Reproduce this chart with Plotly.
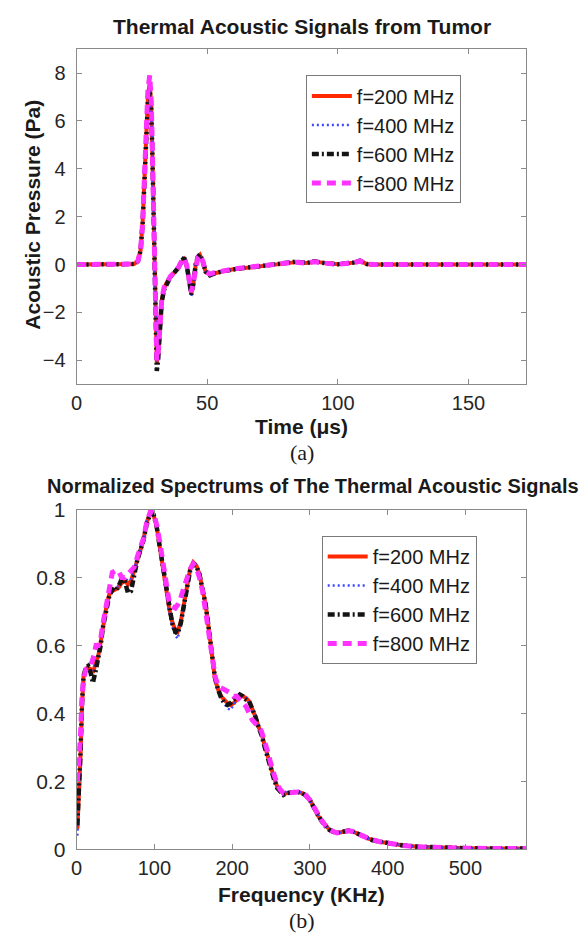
import plotly.graph_objects as go

# ---------------- data: (a) time signals ----------------
time_us = [0, 5, 10, 15, 20, 22, 23.5, 24.5, 25.3, 26, 26.7, 27.3, 28, 28.6, 29.2, 29.8, 30.3, 30.7, 31.2, 31.8,
           32.6, 33.5, 34.5, 36, 37.5, 39, 40.2, 41.2, 42.2, 43.1, 43.9, 44.7, 45.6, 46.4, 47.2, 48.2, 49.4, 51, 53, 56,
           60, 64, 68, 72, 76, 80, 84, 88, 91, 94, 97, 100, 103, 106, 108.5, 111, 114, 120, 130, 140, 150, 160, 172]
p200 = [0, 0, 0, 0, 0, 0.02, 0.15, 0.6, 1.8, 3.6, 5.5, 7.0, 7.6, 6.6, 3.6, 0.2, -2.6, -4.1, -3.8, -2.6,
        -1.5, -1.0, -0.75, -0.5, -0.35, -0.15, 0.1, 0.22, -0.1, -0.6, -1.2, -0.8, 0.0, 0.3, 0.4, 0.15, -0.3, -0.42, -0.35, -0.28,
        -0.2, -0.15, -0.1, -0.05, 0.02, 0.08, 0.1, 0.06, 0.13, 0.08, 0.03, 0.01, 0.04, 0.08, 0.16, 0.02, 0, 0, 0.01, 0, 0.01, 0, 0]
p400 = [0, 0, 0, 0, 0, 0.02, 0.16, 0.62, 1.85, 3.65, 5.5, 6.9, 7.3, 6.4, 3.5, 0.1, -2.7, -4.05, -3.75, -2.6,
        -1.55, -1.05, -0.8, -0.52, -0.33, -0.1, 0.2, 0.35, 0.0, -0.65, -1.35, -0.85, 0.0, 0.3, 0.42, 0.18, -0.28, -0.4, -0.33, -0.27,
        -0.2, -0.14, -0.1, -0.04, 0.03, 0.09, 0.11, 0.07, 0.14, 0.08, 0.03, 0.02, 0.04, 0.09, 0.17, 0.03, 0, 0.01, 0, 0.01, 0, 0, 0]
p600 = [0, 0, 0, 0, 0, 0.02, 0.14, 0.58, 1.75, 3.5, 5.3, 6.8, 7.25, 6.5, 3.7, 0.3, -2.8, -4.45, -4.0, -2.7,
        -1.55, -1.05, -0.8, -0.5, -0.32, -0.12, 0.15, 0.28, -0.05, -0.6, -1.25, -0.8, 0.02, 0.32, 0.42, 0.17, -0.3, -0.45, -0.36, -0.28,
        -0.2, -0.14, -0.1, -0.04, 0.03, 0.1, 0.12, 0.06, 0.14, 0.07, 0.02, 0.01, 0.05, 0.08, 0.16, 0.02, 0, 0, 0.01, 0, 0, 0.01, 0]
p800 = [0, 0, 0, 0, 0, 0.02, 0.15, 0.6, 1.8, 3.7, 5.7, 7.3, 7.9, 6.8, 3.7, 0.2, -2.6, -4.0, -3.7, -2.5,
        -1.45, -0.95, -0.72, -0.48, -0.33, -0.12, 0.15, 0.27, -0.05, -0.55, -1.15, -0.75, 0.02, 0.3, 0.4, 0.16, -0.28, -0.4, -0.33, -0.26,
        -0.19, -0.13, -0.08, -0.03, 0.03, 0.08, 0.1, 0.06, 0.12, 0.07, 0.02, 0.01, 0.04, 0.07, 0.15, 0.02, 0, 0, 0.01, 0, 0, 0, 0]

# ---------------- data: (b) normalized spectra ----------------
freq_khz = [1, 3, 5, 7, 9, 12, 15, 18, 21, 25, 28, 31, 34, 38, 42, 46, 50, 54, 58, 62,
            66, 70, 74, 78, 82, 86, 90, 95, 99, 103, 107, 111, 115, 119, 123, 127, 130, 134, 138, 142,
            146, 150, 154, 158, 162, 166, 170, 174, 178, 182, 186, 190, 194, 198, 202, 206, 210, 214, 218, 222,
            226, 230, 234, 238, 242, 246, 250, 254, 258, 262, 266, 270, 275, 280, 285, 290, 295, 300, 305, 310,
            315, 320, 325, 330, 335, 340, 345, 350, 355, 360, 365, 370, 375, 380, 390, 400, 410, 420, 440, 460,
            480, 500, 530, 560, 578]
s200 = [0.06, 0.15, 0.27, 0.42, 0.51, 0.53, 0.535, 0.53, 0.52, 0.55, 0.57, 0.61, 0.66, 0.71, 0.75,
        0.76, 0.765, 0.77, 0.785, 0.79, 0.78, 0.79, 0.82, 0.85, 0.88, 0.91, 0.96, 0.995, 0.985, 0.95,
        0.89, 0.83, 0.77, 0.71, 0.67, 0.645, 0.64, 0.67, 0.72, 0.78, 0.825, 0.845, 0.835, 0.81, 0.77,
        0.72, 0.65, 0.57, 0.50, 0.47, 0.45, 0.44, 0.43, 0.425, 0.43, 0.44, 0.45, 0.45, 0.445, 0.435,
        0.415, 0.39, 0.36, 0.34, 0.305, 0.27, 0.24, 0.21, 0.185, 0.175, 0.165, 0.165, 0.167, 0.168, 0.168,
        0.165, 0.158, 0.145, 0.125, 0.10, 0.085, 0.07, 0.058, 0.052, 0.048, 0.05, 0.053, 0.054, 0.052, 0.048,
        0.043, 0.037, 0.031, 0.027, 0.022, 0.018, 0.014, 0.011, 0.007, 0.005, 0.004, 0.003, 0.002, 0.002, 0.002]
s400 = [0.04, 0.13, 0.26, 0.41, 0.50, 0.525, 0.53, 0.525, 0.52, 0.55, 0.575, 0.615, 0.665, 0.715, 0.755,
        0.765, 0.77, 0.775, 0.79, 0.80, 0.79, 0.795, 0.825, 0.855, 0.885, 0.915, 0.965, 0.995, 0.98, 0.945,
        0.885, 0.82, 0.76, 0.70, 0.655, 0.63, 0.62, 0.66, 0.715, 0.775, 0.82, 0.84, 0.83, 0.805, 0.765,
        0.715, 0.645, 0.565, 0.495, 0.465, 0.445, 0.43, 0.415, 0.41, 0.425, 0.44, 0.45, 0.45, 0.445, 0.435,
        0.415, 0.395, 0.365, 0.34, 0.305, 0.27, 0.24, 0.21, 0.185, 0.172, 0.17, 0.168, 0.168, 0.17, 0.17,
        0.166, 0.158, 0.145, 0.125, 0.10, 0.085, 0.07, 0.058, 0.05, 0.047, 0.049, 0.053, 0.054, 0.052, 0.048,
        0.043, 0.037, 0.031, 0.027, 0.022, 0.018, 0.014, 0.011, 0.007, 0.005, 0.004, 0.003, 0.002, 0.002, 0.002]
s600 = [0.07, 0.16, 0.28, 0.43, 0.51, 0.535, 0.54, 0.52, 0.49, 0.53, 0.56, 0.60, 0.655, 0.705, 0.745,
        0.765, 0.76, 0.775, 0.795, 0.79, 0.755, 0.76, 0.81, 0.85, 0.88, 0.91, 0.955, 0.99, 0.985, 0.95,
        0.89, 0.83, 0.77, 0.71, 0.665, 0.64, 0.635, 0.665, 0.715, 0.775, 0.82, 0.84, 0.835, 0.81, 0.77,
        0.72, 0.65, 0.575, 0.505, 0.47, 0.445, 0.43, 0.425, 0.43, 0.44, 0.445, 0.455, 0.45, 0.44, 0.435,
        0.415, 0.39, 0.36, 0.335, 0.30, 0.265, 0.235, 0.205, 0.18, 0.17, 0.16, 0.165, 0.168, 0.168, 0.168,
        0.165, 0.158, 0.145, 0.123, 0.10, 0.083, 0.068, 0.057, 0.051, 0.048, 0.05, 0.053, 0.055, 0.052, 0.047,
        0.042, 0.036, 0.031, 0.027, 0.022, 0.018, 0.014, 0.011, 0.007, 0.005, 0.004, 0.003, 0.002, 0.002, 0.002]
s800 = [0.2, 0.25, 0.33, 0.45, 0.50, 0.53, 0.535, 0.54, 0.56, 0.6, 0.6, 0.62, 0.665, 0.72, 0.77,
        0.815, 0.82, 0.82, 0.8, 0.8, 0.81, 0.82, 0.83, 0.86, 0.885, 0.915, 0.96, 0.995, 0.99, 0.955,
        0.905, 0.85, 0.78, 0.73, 0.715, 0.71, 0.72, 0.74, 0.77, 0.8, 0.825, 0.84, 0.83, 0.8, 0.76,
        0.7, 0.63, 0.57, 0.51, 0.48, 0.475, 0.47, 0.465, 0.46, 0.45, 0.45, 0.44, 0.43, 0.42, 0.4,
        0.38, 0.37, 0.365, 0.345, 0.32, 0.285, 0.25, 0.22, 0.19, 0.175, 0.165, 0.165, 0.167, 0.168, 0.168,
        0.165, 0.158, 0.145, 0.125, 0.10, 0.085, 0.07, 0.058, 0.052, 0.048, 0.05, 0.053, 0.054, 0.052, 0.048,
        0.043, 0.037, 0.031, 0.027, 0.022, 0.018, 0.014, 0.011, 0.007, 0.005, 0.004, 0.003, 0.002, 0.002, 0.002]

labels = ["f=200 MHz", "f=400 MHz", "f=600 MHz", "f=800 MHz"]
time_ticks = [0, 50, 100, 150]
pressure_ticks = [-4, -2, 0, 2, 4, 6, 8]
freq_ticks = [0, 100, 200, 300, 400, 500]
spec_ticks = [0, 0.2, 0.4, 0.6, 0.8, 1]

# ---------------- styling ----------------
W, H = 579, 947
SANS = "Liberation Sans, Arial, Helvetica, sans-serif"
SERIF = "Liberation Serif, Times New Roman, serif"
styles = [
    dict(color="rgb(255,40,0)", width=4, dash="solid"),
    dict(color="rgb(60,70,255)", width=2.5, dash="2px,3px"),
    dict(color="rgb(20,20,20)", width=4.5, dash="7px,3px,2px,3px"),
    dict(color="rgb(255,50,255)", width=5, dash="9px,6px"),
]

fig = go.Figure()
for lab, ys, st in zip(labels, [p200, p400, p600, p800], styles):
    fig.add_trace(go.Scatter(x=time_us, y=ys, mode="lines", name=lab, line=st,
                             xaxis="x", yaxis="y", legend="legend"))
for lab, ys, st in zip(labels, [s200, s400, s600, s800], styles):
    fig.add_trace(go.Scatter(x=freq_khz, y=ys, mode="lines", name=lab, line=st,
                             xaxis="x2", yaxis="y2", legend="legend2"))

def px_x(p):
    return p / W

def px_y(p):
    return 1 - p / H

axcol = "#8a8a8a"

def axis(size, standoff):
    return dict(showline=True, linecolor=axcol, linewidth=1, mirror="ticks", ticks="inside",
                ticklen=5, tickcolor=axcol, showgrid=False, zeroline=False,
                ticklabelstandoff=standoff,
                tickfont=dict(family=SANS, size=size, color="#262626"))

fig.update_layout(
    width=W, height=H, autosize=False,
    margin=dict(l=0, r=0, t=0, b=0),
    paper_bgcolor="white", plot_bgcolor="white",
    font=dict(family=SANS, color="#1a1a1a"),
    xaxis=dict(domain=[px_x(71.3), px_x(525.5)], range=[0, 172], tickvals=time_ticks, anchor="y", **axis(20, 1)),
    yaxis=dict(domain=[px_y(381.5), px_y(38)], range=[-5, 9], tickvals=pressure_ticks, anchor="x", **axis(20, 6)),
    xaxis2=dict(domain=[px_x(71.3), px_x(525.5)], range=[0, 578], tickvals=freq_ticks, anchor="y2", **axis(20, 1)),
    yaxis2=dict(domain=[px_y(858), px_y(510)], range=[0, 1], tickvals=spec_ticks, anchor="x2", **axis(21, 6)),
    legend=dict(x=px_x(303), y=px_y(65), xanchor="left", yanchor="top", bgcolor="white",
                bordercolor="#7a7a7a", borderwidth=1, itemwidth=40, tracegroupgap=0,
                font=dict(family=SANS, size=20, color="#1a1a1a")),
    legend2=dict(x=px_x(319), y=px_y(537), xanchor="left", yanchor="top", bgcolor="white",
                 bordercolor="#7a7a7a", borderwidth=1, itemwidth=40, tracegroupgap=0,
                 font=dict(family=SANS, size=20, color="#1a1a1a")),
)

def ann(text, x, y, size, family=SANS, angle=0, xanchor="center"):
    fig.add_annotation(text=text, x=px_x(x), y=px_y(y), xref="paper", yref="paper",
                       showarrow=False, xanchor=xanchor, yanchor="middle", textangle=angle,
                       font=dict(family=family, size=size, color="#1a1a1a"))

ann("<b>Thermal Acoustic Signals from Tumor</b>", 299, 15, 21)
ann("<b>Acoustic Pressure (Pa)</b>", 27, 208, 21, angle=-90)
ann("<b>Time (μs)</b>", 299, 425, 21)
ann("(a)", 299, 451, 22, family=SERIF)
ann("<b>Normalized Spectrums of The Thermal Acoustic Signals</b>", 39, 486, 20, xanchor="left")
ann("<b>Frequency (KHz)</b>", 299, 904, 21)
ann("(b)", 299, 931, 22, family=SERIF)

fig.write_html("out.html")
